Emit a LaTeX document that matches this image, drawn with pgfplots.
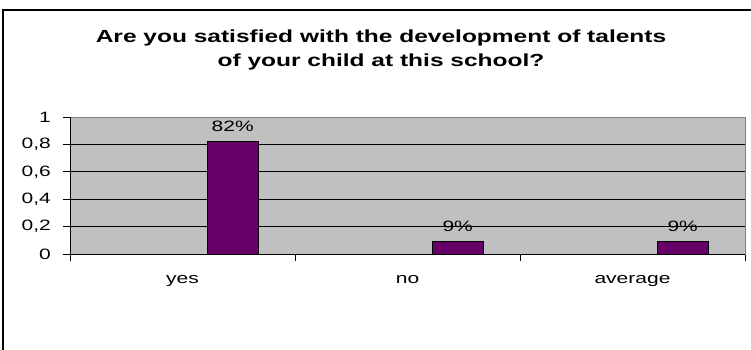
\documentclass[border=0pt]{standalone}
\usepackage{pgfplots}
\pgfplotsset{compat=1.18}
\usepackage{fontspec}
\setmainfont{Liberation Sans}
\usepackage{graphicx}
\definecolor{plotgray}{HTML}{C0C0C0}
\definecolor{bordergray}{HTML}{808080}
\definecolor{barpurple}{HTML}{660066}
\newcommand{\sx}[1]{\scalebox{1.4}[1]{#1}}
\begin{document}
\begin{tikzpicture}[x=1pt,y=1pt]
\begin{axis}[
  at={(70pt,95pt)}, anchor=south west,
  scale only axis, width=675pt, height=137pt,
  xmin=-0.5, xmax=2.5, ymin=0, ymax=1,
  axis background/.style={fill=plotgray},
  axis line style={draw=bordergray, line width=0.8pt},
  xtick={-0.5,0.5,1.5,2.5},
  x tick label as interval,
  xticklabels={\sx{yes},\sx{no},\sx{average}},
  ytick={0,0.2,0.4,0.6,0.8,1},
  yticklabels={\sx{0},\sx{0,2},\sx{0,4},\sx{0,6},\sx{0,8},\sx{1}},
  tick pos=left, tick align=outside,
  major tick length=7pt,
  tick style={black, line width=0.8pt},
  ymajorgrids, grid style={black, line width=0.8pt},
  xmajorgrids=false,
  ticklabel style={font=\fontsize{15}{17}\selectfont},
  xticklabel style={anchor=base, yshift=-22pt},
  yticklabel style={anchor=east, inner sep=0pt, xshift=-12pt},
  point meta=explicit symbolic,
  nodes near coords={\sx{\pgfplotspointmeta}},
  every node near coord/.append style={font=\fontsize{15}{17}\selectfont, anchor=base, inner sep=0pt, yshift=10pt, black},
]
\addplot[ybar, bar width=0.2267, fill=barpurple, draw=black, line width=0.8pt]
  coordinates {(0.223,0.82) [82\%] (1.223,0.09) [9\%] (2.223,0.09) [9\%]};
\draw[black, line width=0.8pt] (axis cs:-0.5,1) -- (axis cs:-0.5,0) -- (axis cs:2.5,0);
\end{axis}
\draw[black, line width=1.5pt] (3,-20) -- (3,339) -- (780,339);
\node[anchor=base, inner sep=0pt, font=\fontsize{17.5}{20}\selectfont\bfseries] at (381,307) {\sx{Are you satisfied with the development of talents}};
\node[anchor=base, inner sep=0pt, font=\fontsize{17.5}{20}\selectfont\bfseries] at (381,283) {\sx{of your child at this school?}};
\pgfresetboundingbox
\useasboundingbox (0,0) rectangle (751,349);
\end{tikzpicture}
\end{document}
